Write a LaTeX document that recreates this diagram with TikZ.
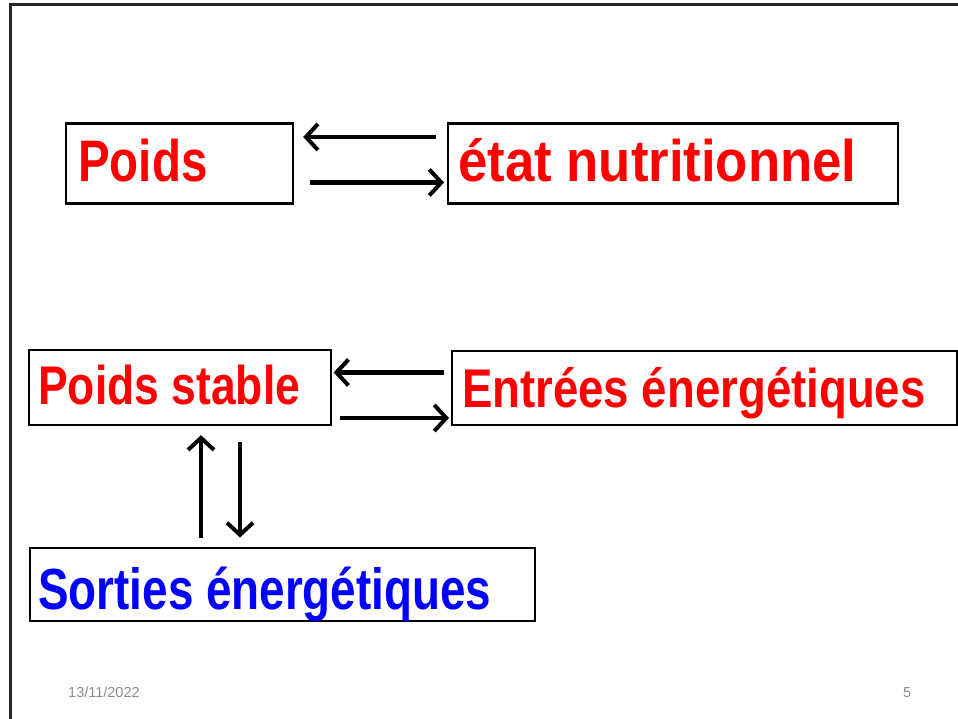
\documentclass[tikz,border=0pt]{standalone}
\usepackage{fontspec}
\setmainfont{Liberation Sans}
\usetikzlibrary{arrows.meta,calc}
\newcommand{\bigtxt}[3]{{\fontsize{#1}{#1}\selectfont\bfseries\scalebox{#2}[1]{#3}}}
\tikzset{
  box/.style={draw=black, line width=2.2pt, anchor=north west, inner sep=0pt, fill=white},
  lbl/.style={anchor=base west, inner sep=0pt},
  arr/.style={line width=4.2pt, -{Straight Barb[length=12pt,width=26pt,line width=4pt]}},
  foot/.style={text=black!45, font=\fontsize{14.5}{14.5}\selectfont, inner sep=0pt, anchor=base west}
}
\begin{document}
\begin{tikzpicture}[x=1pt,y=-1pt]
\useasboundingbox (0,0) rectangle (958,719);
\fill[white] (0,0) rectangle (958,719);
\draw[line width=3pt, black!85] (10,719) -- (10,5) -- (958,5);
% boxes
\node[box, minimum width=227pt, minimum height=80pt] (p) at (65,122.5) {};
\node[box, minimum width=450pt, minimum height=80pt] (n) at (447,122.5) {};
\node[box, minimum width=302pt, minimum height=75pt] (ps) at (28,349) {};
\node[box, minimum width=505pt, minimum height=74pt] (e) at (451,350) {};
\node[box, minimum width=505pt, minimum height=73pt] (s) at (29,546.5) {};
% texts
\node[lbl, text=red] (tp) at (78,182) {\bigtxt{58.6}{0.81}{Poids}};
\node[lbl, text=red] (tn) at (458,182) {\bigtxt{58.6}{0.90}{état nutritionnel}};
\node[lbl, text=red] (tps) at (38,404) {\bigtxt{54.5}{0.816}{Poids stable}};
\node[lbl, text=red] (te) at (462,407) {\bigtxt{54.5}{0.836}{Entrées énergétiques}};
\node[lbl, text=blue] (ts) at (38,609) {\bigtxt{58}{0.79}{Sorties énergétiques}};
% arrows top
\draw[arr] ($(n.north west)+(-11,14.5)$) -- ($(p.north east)+(9,14.5)$);
\draw[arr] ($(p.north east)+(16,60)$) -- ($(n.north west)+(-3,60)$);
% arrows middle
\draw[arr] ($(e.north west)+(-7,22.5)$) -- ($(ps.north east)+(1.5,23.5)$);
\draw[arr] ($(ps.north east)+(8,69)$) -- ($(e.north west)+(-2,68)$);
% vertical arrows
\draw[arr] ($(s.north west)+(172,-9)$) -- ($(ps.south west)+(173,9)$);
\draw[arr] ($(ps.south west)+(212,16)$) -- ($(s.north west)+(211,-9)$);
% footer
\node[foot] (date) at (68,697) {13/11/2022};
\node[foot] (num) at (903,697) {5};
\end{tikzpicture}
\end{document}
